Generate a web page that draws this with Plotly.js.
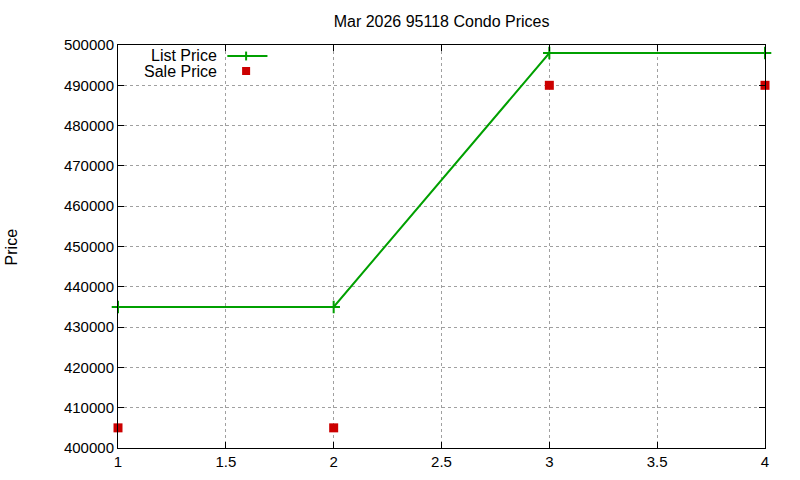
<!DOCTYPE html>
<html>
<head>
<meta charset="utf-8">
<script src="https://cdn.plot.ly/plotly-3.0.1.min.js"></script>
<style>html,body{margin:0;padding:0;background:#fff}#chart{width:800px;height:480px}</style>
</head>
<body>
<div id="chart"></div>
<script>
const xValues = [1, 2, 3, 4];
const listPrice = [435000, 435000, 498000, 498000];
const salePrice = [405000, 405000, 490000, 490000];
const chartTitle = "Mar 2026 95118 Condo Prices";
const yLabel = "Price";
const seriesNames = ["List Price", "Sale Price"];

const green = "#00a000";
const red = "#cc0000";
const fnt = {family: "Liberation Sans, Arial, sans-serif", size: 15, color: "#000"};
const fntBig = {family: "Liberation Sans, Arial, sans-serif", size: 16, color: "#000"};

const traces = [
  {x: xValues, y: listPrice, name: seriesNames[0], mode: "lines+markers",
   line: {color: green, width: 2},
   marker: {symbol: "cross-thin", size: 9, line: {color: green, width: 2}},
   cliponaxis: false, showlegend: false},
  {x: xValues, y: salePrice, name: seriesNames[1], mode: "markers",
   marker: {symbol: "square", size: 9, color: red},
   cliponaxis: false, showlegend: false}
];

// legend geometry (paper coords)
const lx = 0.1561, ly1 = 0.9740, ly2 = 0.9345;
const sx0 = 0.166, sx1 = 0.231, sxm = 0.198;

const axisCommon = {
  showline: true, linecolor: "#000", linewidth: 1, mirror: "ticks",
  ticks: "inside", ticklen: 6, tickcolor: "#000",
  showgrid: true, gridcolor: "#a0a0a0", griddash: "dot", gridwidth: 1,
  zeroline: false, tickfont: fnt
};

const layout = {
  width: 800, height: 480,
  margin: {l: 118, r: 35, t: 45, b: 32},
  paper_bgcolor: "#fff", plot_bgcolor: "#fff",
  title: {text: chartTitle, font: fntBig, x: 0.552, xanchor: "center", y: 0.956, yanchor: "middle"},
  xaxis: Object.assign({}, axisCommon, {range: [1, 4], dtick: 0.5, tick0: 1}),
  yaxis: Object.assign({}, axisCommon, {range: [400000, 500000], dtick: 10000, tickformat: "d"}),
  showlegend: false,
  annotations: [
    {text: yLabel, xref: "paper", yref: "paper", x: -0.164, y: 0.5, textangle: -90,
     showarrow: false, font: fntBig, xanchor: "center", yanchor: "middle"},
    {text: seriesNames[0], xref: "paper", yref: "paper", x: lx, y: ly1, xanchor: "right", yanchor: "middle", showarrow: false, font: fntBig},
    {text: seriesNames[1], xref: "paper", yref: "paper", x: lx, y: ly2, xanchor: "right", yanchor: "middle", showarrow: false, font: fntBig}
  ],
  shapes: [
    {type: "line", xref: "paper", yref: "paper", x0: sx0 + 0.003, x1: sx1, y0: 0.9727, y1: 0.9727, line: {color: green, width: 2}},
    {type: "line", xref: "paper", yref: "paper", x0: sxm, x1: sxm, y0: 0.9727 - 0.011, y1: 0.9727 + 0.011, line: {color: green, width: 2}},
    {type: "rect", xref: "paper", yref: "paper", x0: sxm - 0.0062, x1: sxm + 0.0062, y0: 0.9355 - 0.0099, y1: 0.9355 + 0.0099, line: {width: 0}, fillcolor: red}
  ]
};

Plotly.newPlot("chart", traces, layout, {staticPlot: true, displayModeBar: false});
</script>
</body>
</html>
